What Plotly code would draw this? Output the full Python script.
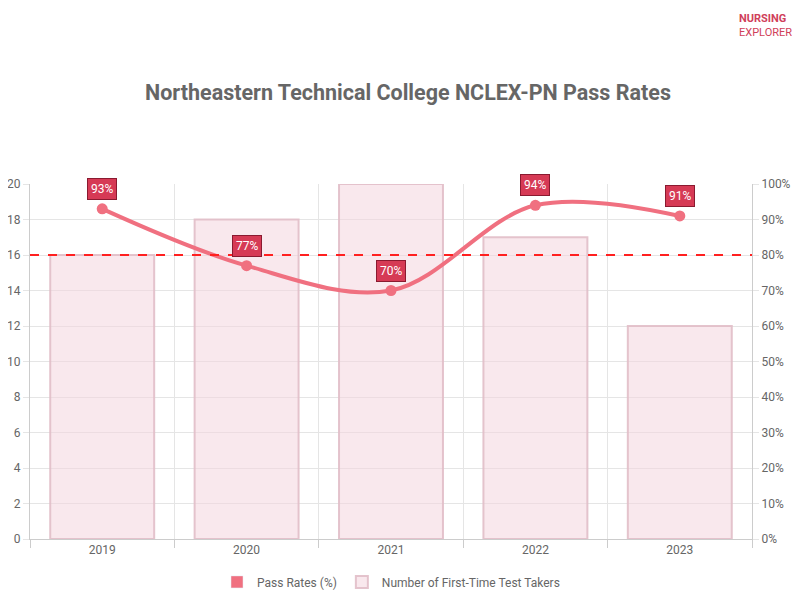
import plotly.graph_objects as go

years = ["2019", "2020", "2021", "2022", "2023"]
takers = [16, 18, 20, 17, 12]
pass_rates = [93, 77, 70, 94, 91]
xs = list(range(len(years)))

fig = go.Figure()
fig.add_trace(go.Bar(x=xs, y=takers, name="Number of First-Time Test Takers", width=0.72,
                     marker=dict(color="rgba(244,214,222,0.55)", line=dict(color="rgba(225,190,200,0.9)", width=2)),
                     yaxis="y", legendrank=2))
fig.add_trace(go.Scatter(x=xs, y=pass_rates, name="Pass Rates (%)", mode="lines+markers",
                         line=dict(color="#f07080", width=4, shape="spline", smoothing=1.0),
                         marker=dict(size=11, color="#f07080"), yaxis="y2", showlegend=False))
# legend swatch for the line series (filled rectangle, as in the reference)
fig.add_trace(go.Bar(x=[None], y=[None], name="Pass Rates (%)", marker=dict(color="#f07080"),
                     yaxis="y", legendrank=1))
for x, v in zip(xs, pass_rates):
    fig.add_annotation(x=x, y=v, yref="y2", text=f"{v}%", showarrow=False, yshift=20,
                       font=dict(color="white", size=12, family="Roboto"), bgcolor="#d63a55",
                       bordercolor="#8a1a30", borderwidth=1, borderpad=3)
fig.add_shape(type="line", xref="paper", x0=0, x1=1, yref="y2", y0=80, y1=80,
              line=dict(color="#ff2020", width=2, dash="dash"))
fig.add_annotation(xref="paper", yref="paper", x=1.058, y=1.49, xanchor="right", yanchor="top",
                   text="<b>NURSING</b><br>EXPLORER", showarrow=False, align="left",
                   font=dict(size=11, color="#d0405a", family="Roboto"))

fig.update_layout(
    width=800, height=600, plot_bgcolor="white", paper_bgcolor="white",
    margin=dict(l=22, r=56, t=176, b=65),
    title=dict(text="<b>Northeastern Technical College NCLEX-PN Pass Rates</b>", x=0.5, y=0.86,
               xanchor="center", yanchor="middle", font=dict(size=21.5, color="#666", family="Roboto")),
    font=dict(family="Roboto", size=12, color="#666"),
    barmode="overlay",
    xaxis=dict(range=[-0.5, 4.5], tickvals=xs, ticktext=years, showgrid=False, zeroline=False,
               ticks="", showline=True, linecolor="#ccc", automargin=False,
               minor=dict(tickvals=[-0.5, 0.5, 1.5, 2.5, 3.5, 4.5], showgrid=True, gridcolor="#e5e5e5",
                          ticks="outside", ticklen=8, tickcolor="#ccc")),
    yaxis=dict(range=[0, 20], dtick=2, gridcolor="#e5e5e5", zeroline=False, ticks="outside",
               ticklen=6, tickcolor="#e5e5e5", showline=True, linecolor="#ccc", automargin=False),
    yaxis2=dict(range=[0, 100], dtick=10, overlaying="y", side="right", ticksuffix="%",
                showgrid=False, zeroline=False, ticks="outside", ticklen=6, tickcolor="#e5e5e5",
                showline=True, linecolor="#ccc", automargin=False),
    legend=dict(orientation="h", x=0.5, xanchor="center", y=-0.08, yanchor="top",
                font=dict(size=12, color="#666")),
)
fig.write_html("out.html")
